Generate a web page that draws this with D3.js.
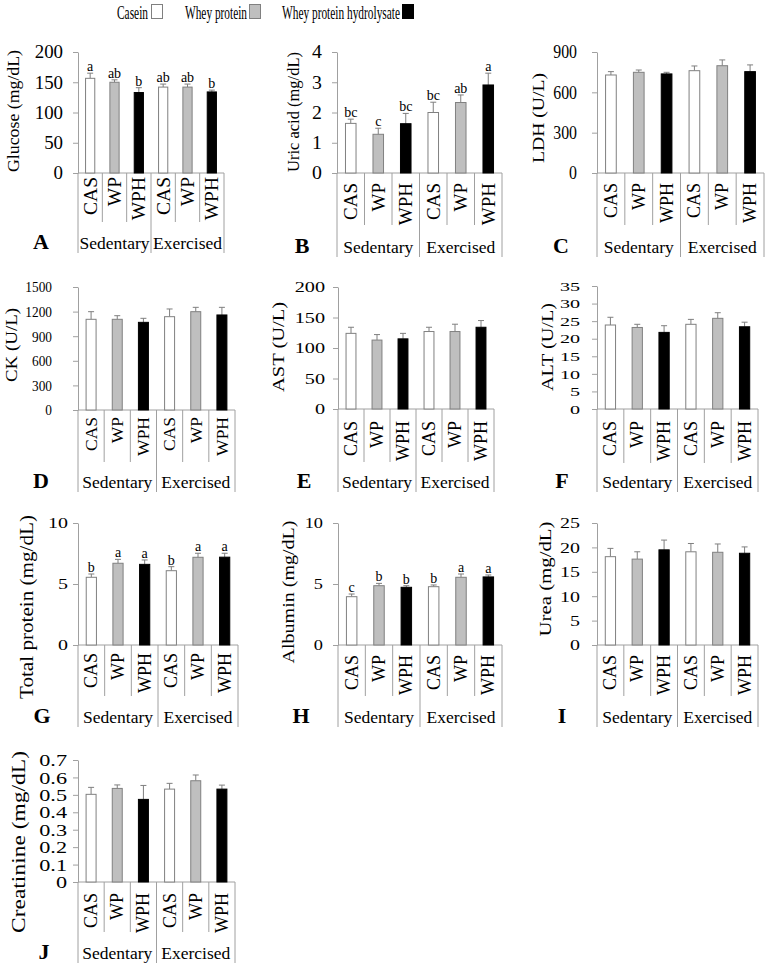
<!DOCTYPE html>
<html><head><meta charset="utf-8">
<script src="https://cdn.jsdelivr.net/npm/d3@7"></script>
<style>
body{margin:0;background:#fff}
svg{display:block}
text{font-family:"Liberation Serif","Times New Roman",serif;fill:#000}
</style>
</head><body><svg id="c" width="768" height="969"></svg>
<script>
// ---------- DATA ----------
const groups = ["Sedentary", "Exercised"];
const diets = ["CAS", "WP", "WPH"];
const dietNames = ["Casein", "Whey protein", "Whey protein hydrolysate"];
const dietColors = ["#ffffff", "#bfbfbf", "#000000"];

const glucoseMean = [156.5, 150, 133, 142, 142, 134];
const glucoseSD   = [8.5, 4, 8, 5, 5, 3];
const glucoseSig  = ["a", "ab", "b", "ab", "ab", "b"];
const glucoseTicks = [0, 50, 100, 150, 200];

const uricMean = [1.64, 1.28, 1.63, 2.0, 2.33, 2.91];
const uricSD   = [0.14, 0.20, 0.34, 0.34, 0.25, 0.39];
const uricSig  = ["bc", "c", "bc", "bc", "ab", "a"];
const uricTicks = [0, 1, 2, 3, 4];

const ldhMean = [729, 749, 737, 761, 798, 754];
const ldhSD   = [25, 17, 12, 35, 43, 50];
const ldhTicks = [0, 300, 600, 900];

const ckMean = [1106, 1106, 1069, 1138, 1199, 1159];
const ckSD   = [93, 44, 49, 94, 53, 93];
const ckTicks = [0, 300, 600, 900, 1200, 1500];

const astMean = [124, 113, 115, 127, 127, 134];
const astSD   = [10, 9, 9, 7, 12, 11];
const astTicks = [0, 50, 100, 150, 200];

const altMean = [23.9, 23.2, 21.8, 24.1, 25.8, 23.4];
const altSD   = [2.2, 0.9, 1.9, 1.4, 1.6, 1.3];
const altTicks = [0, 5, 10, 15, 20, 25, 30, 35];

const tpMean = [5.55, 6.70, 6.61, 6.09, 7.19, 7.20];
const tpSD   = [0.27, 0.32, 0.36, 0.33, 0.33, 0.32];
const tpSig  = ["b", "a", "a", "b", "a", "a"];
const tpTicks = [0, 5, 10];

const albMean = [3.96, 4.86, 4.73, 4.78, 5.55, 5.58];
const albSD   = [0.22, 0.19, 0.13, 0.14, 0.27, 0.16];
const albSig  = ["c", "b", "b", "b", "a", "a"];
const albTicks = [0, 5, 10];

const ureaMean = [18.1, 17.6, 19.5, 19.1, 19.0, 18.8];
const ureaSD   = [1.7, 1.5, 2.0, 1.7, 1.7, 1.3];
const ureaTicks = [0, 5, 10, 15, 20, 25];

const creatMean = [0.503, 0.537, 0.474, 0.533, 0.581, 0.533];
const creatSD   = [0.040, 0.020, 0.080, 0.033, 0.033, 0.023];
const creatTicks = [0, 0.1, 0.2, 0.3, 0.4, 0.5, 0.6, 0.7];

// ---------- LAYOUT ----------
const panels = [
 {letter:"A", title:"Glucose (mg/dL)", mean:glucoseMean, sd:glucoseSD, sig:glucoseSig, ticks:glucoseTicks,
  x0:78, x1:224, yTop:52, yZero:173, sub:222, grp:253, tickGap:15, tickFs:18, sx:1.05,
  tX:15, tY:111, tLen:122, tFs:17, catFs:19.5, catGap:4, lX:41},
 {letter:"B", title:"Uric acid (mg/dL)", mean:uricMean, sd:uricSD, sig:uricSig, ticks:uricTicks,
  x0:337, x1:502, yTop:52, yZero:173, sub:225, grp:257, tickGap:15, tickFs:18, sx:1.1,
  tX:295, tY:112, tLen:120, tFs:17, catFs:19, catGap:10, lX:302},
 {letter:"C", title:"LDH (U/L)", mean:ldhMean, sd:ldhSD, sig:null, ticks:ldhTicks,
  x0:597, x1:764, yTop:52, yZero:173, sub:225, grp:257, tickGap:20, tickFs:18, sx:0.88,
  tX:540, tY:118, tLen:90, tFs:17, catFs:18, catGap:10, lX:561},
 {letter:"D", title:"CK (U/L)", mean:ckMean, sd:ckSD, sig:null, ticks:ckTicks,
  x0:78, x1:235, yTop:287, yZero:410, sub:462, grp:492, tickGap:26, tickFs:15, sx:0.89,
  tX:13, tY:345, tLen:74, tFs:17, catFs:17.5, catGap:7, lX:41},
 {letter:"E", title:"AST (U/L)", mean:astMean, sd:astSD, sig:null, ticks:astTicks,
  x0:338, x1:494, yTop:287, yZero:409, sub:462, grp:492, tickGap:13, tickFs:15, sx:1.35,
  tX:280, tY:347, tLen:90, tFs:17, catFs:18, catGap:12, lX:304},
 {letter:"F", title:"ALT (U/L)", mean:altMean, sd:altSD, sig:null, ticks:altTicks,
  x0:597, x1:758, yTop:286, yZero:409, sub:463, grp:492, tickGap:17, tickFs:13, sx:1.55,
  tX:549, tY:347, tLen:88, tFs:17, catFs:18, catGap:12, lX:562},
 {letter:"G", title:"Total protein (mg/dL)", mean:tpMean, sd:tpSD, sig:tpSig, ticks:tpTicks,
  x0:78, x1:238, yTop:523, yZero:645, sub:696, grp:727, tickGap:10, tickFs:15, sx:1.33,
  tX:28, tY:607, tLen:184, tFs:18, catFs:18, catGap:8, lX:42},
 {letter:"H", title:"Albumin (mg/dL)", mean:albMean, sd:albSD, sig:albSig, ticks:albTicks,
  x0:338, x1:502, yTop:523, yZero:645, sub:696, grp:727, tickGap:15, tickFs:15, sx:1.22,
  tX:290, tY:592, tLen:143, tFs:17, catFs:18, catGap:10, lX:301},
 {letter:"I", title:"Urea (mg/dL)", mean:ureaMean, sd:ureaSD, sig:null, ticks:ureaTicks,
  x0:597, x1:758, yTop:523, yZero:645, sub:696, grp:727, tickGap:17, tickFs:15, sx:1.33,
  tX:547, tY:579, tLen:115, tFs:16.5, catFs:18, catGap:10, lX:562},
 {letter:"J", title:"Creatinine (mg/dL)", mean:creatMean, sd:creatSD, sig:null, ticks:creatTicks,
  x0:78, x1:235, yTop:760, yZero:882, sub:932, grp:963, tickGap:11, tickFs:17.5, sx:1.27,
  tX:20, tY:842, tLen:182, tFs:18, catFs:18, catGap:11, lX:44}
];

const lineCol = "#a0a0a0";
const errCol = "#7f7f7f";
const svg = d3.select("#c");
const cells = d3.range(6);

panels.forEach(p => {
  const g = svg.append("g");
  const xCell = d3.scaleBand().domain(cells).range([p.x0, p.x1]).padding(0);
  const xBar = d3.scaleBand().domain(cells).range([p.x0, p.x1]).paddingInner(0.58).paddingOuter(0.29);
  const yMax = p.ticks[p.ticks.length - 1];
  const y = d3.scaleLinear().domain([0, yMax]).range([p.yZero, p.yTop]);

  // y axis
  const ax = g.append("g").attr("transform", `translate(${p.x0},0)`)
    .call(d3.axisLeft(y).tickValues(p.ticks).tickSize(5).tickSizeOuter(0).tickFormat(d => String(d)));
  ax.attr("font-family", "Liberation Serif").attr("font-size", p.tickFs);
  ax.select(".domain").attr("stroke", lineCol);
  ax.selectAll(".tick line").attr("stroke", lineCol);
  ax.selectAll(".tick text")
    .attr("x", -p.tickGap / p.sx)
    .attr("transform", `scale(${p.sx},1)`);

  // x baseline
  g.append("line").attr("x1", p.x0).attr("x2", p.x1).attr("y1", p.yZero).attr("y2", p.yZero)
    .attr("stroke", lineCol);

  // separators
  d3.range(7).forEach(i => {
    const x = i < 6 ? xCell(i) : p.x1;
    g.append("line").attr("x1", x).attr("x2", x).attr("y1", p.yZero)
      .attr("y2", i % 3 === 0 ? p.grp : p.sub).attr("stroke", lineCol);
  });

  // error bars
  cells.forEach(i => {
    const cx = xBar(i) + xBar.bandwidth() / 2;
    const yt = y(p.mean[i] + p.sd[i]);
    g.append("line").attr("x1", cx).attr("x2", cx).attr("y1", y(p.mean[i])).attr("y2", yt)
      .attr("stroke", errCol);
    g.append("line").attr("x1", cx - 3).attr("x2", cx + 3).attr("y1", yt).attr("y2", yt)
      .attr("stroke", errCol);
  });

  // bars
  g.selectAll("rect.bar").data(p.mean).join("rect")
    .attr("x", (d, i) => xBar(i) + 0.5)
    .attr("width", xBar.bandwidth() - 1)
    .attr("y", d => y(d))
    .attr("height", d => p.yZero - y(d))
    .attr("fill", (d, i) => dietColors[i % 3])
    .attr("stroke", (d, i) => i % 3 === 2 ? "#000" : "#808080");

  // significance letters
  if (p.sig) {
    cells.forEach(i => {
      g.append("text").attr("x", xBar(i) + xBar.bandwidth() / 2)
        .attr("y", y(p.mean[i] + p.sd[i]) - 2)
        .attr("text-anchor", "middle").attr("font-size", 14).text(p.sig[i]);
    });
  }

  // category labels
  cells.forEach(i => {
    const cx = xCell(i) + xCell.bandwidth() / 2 + p.catFs * 0.33;
    g.append("text").attr("transform", `translate(${cx},${p.yZero + p.catGap}) rotate(-90)`)
      .attr("text-anchor", "end").attr("font-size", p.catFs).text(diets[i % 3]);
  });

  // group labels
  groups.forEach((gr, k) => {
    const gx = (xCell(k * 3) + (k === 0 ? xCell(3) : p.x1)) / 2;
    g.append("text").attr("x", gx).attr("y", p.grp - 4).attr("text-anchor", "middle")
      .attr("font-size", 17.5).text(gr);
  });

  // axis title
  g.append("text").attr("transform", `translate(${p.tX + p.tFs * 0.25},${p.tY}) rotate(-90)`)
    .attr("text-anchor", "middle").attr("font-size", p.tFs)
    .attr("textLength", p.tLen).attr("lengthAdjust", "spacingAndGlyphs").text(p.title);

  // panel letter
  g.append("text").attr("x", p.lX).attr("y", p.grp - 4).attr("text-anchor", "middle")
    .attr("font-size", 22).attr("font-weight", "bold").text(p.letter);
});

// legend
const legendTextX = [117, 185, 282];
const legendTextLen = [31, 62, 118];
const legendBoxX = [151, 249, 402];
const lg = svg.append("g");
dietNames.forEach((n, i) => {
  lg.append("text").attr("x", legendTextX[i]).attr("y", 19).attr("font-size", 18)
    .attr("textLength", legendTextLen[i]).attr("lengthAdjust", "spacingAndGlyphs").text(n);
  lg.append("rect").attr("x", legendBoxX[i] + 0.5).attr("y", 4.5).attr("width", 11).attr("height", 14)
    .attr("fill", dietColors[i]).attr("stroke", i === 2 ? "#000" : "#808080");
});
</script>
</body></html>
